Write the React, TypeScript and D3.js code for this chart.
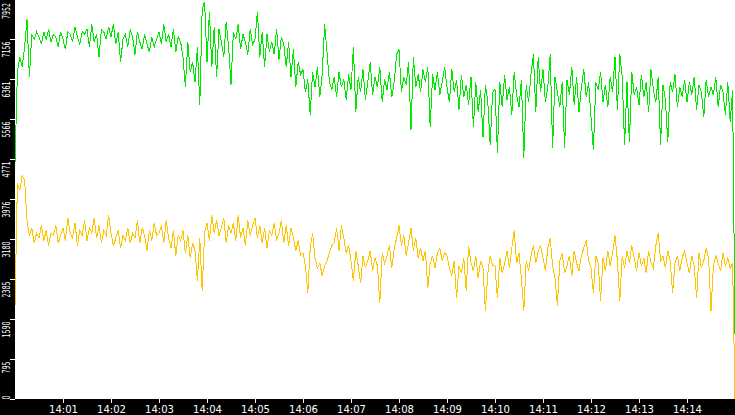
import React, { useEffect, useRef } from 'react';
import * as d3 from 'd3';

// sampled every 3 s from 14:00:00 to 14:15:00
const startTime = new Date(2024, 0, 1, 14, 0, 0);
const endTime = new Date(2024, 0, 1, 14, 15, 0);
const stepSeconds = 3;

const greenValues = [
  4700, 6500, 6800, 6600, 7000, 7550, 6400, 7250, 7150, 7300,
  7200, 7050, 7300, 7150, 7350, 7100, 7250, 7200, 7000, 7300,
  7150, 6950, 7300, 7250, 7100, 7400, 7200, 7050, 7300, 7250,
  7350, 7000, 7450, 7100, 7250, 6800, 7350, 7300, 7150, 7400,
  7200, 7450, 7050, 7300, 6700, 7150, 7250, 7000, 7350, 7200,
  6850, 7300, 7100, 6950, 7250, 7050, 6900, 7200, 7000, 7150,
  7300, 7050, 7450, 7100, 7250, 7000, 7350, 6900, 7200, 7100,
  6800, 6200, 7100, 6500, 6700, 6300, 7000, 5850, 7750, 7900,
  6700, 7700, 6600, 7400, 6400, 7350, 7100, 6800, 7500, 7000,
  6250, 7300, 7150, 7450, 6950, 7250, 7100, 6850, 7350, 7050,
  7150, 7700, 6800, 7300, 6600, 7250, 6900, 7100, 6850, 7350,
  6750, 7200, 7050, 6600, 7100, 6400, 6950, 6200, 6700, 6450,
  6550, 6100, 6350, 5650, 6500, 6200, 6600, 6000, 6450, 7450,
  6900, 6300, 6150, 6400, 6000, 6500, 6200, 6350, 5950, 6450,
  6150, 7000, 5700, 6400, 6100, 6550, 5950, 6300, 6700, 6050,
  6400, 6200, 6600, 5900, 6350, 6150, 6500, 6000, 6300, 6850,
  6950, 6100, 6400, 6250, 6700, 5350, 6800, 6200, 6450, 6100,
  6550, 6300, 6600, 5400, 6450, 6150, 6500, 6050, 6300, 6600,
  6200, 5900, 6550, 6100, 6350, 5750, 6450, 6000, 6250, 5850,
  6400, 5400, 6300, 5700, 6150, 5200, 6250, 5900, 5050, 6100,
  6150, 4900, 6300, 5800, 6450, 5950, 6200, 5650, 6500, 6050,
  5800, 6350, 4800, 6250, 5900, 6450, 6850, 5700, 6800, 6100,
  6550, 5900, 6200, 6850, 5000, 6400, 6100, 5800, 6300, 5000,
  6350, 6050, 6600, 5850, 6400, 5700, 6200, 6550, 6000, 6300,
  5600, 4950, 6300, 6150, 6500, 5900, 6250, 5800, 6400, 6100,
  6800, 5750, 6850, 6400, 5050, 6300, 5100, 6500, 6050, 6200,
  5850, 6450, 6000, 6300, 5700, 6550, 6150, 5900, 6400, 5050,
  6250, 5950, 5100, 6300, 6100, 6450, 5800, 6200, 6000, 6350,
  5900, 6300, 6050, 6400, 5750, 6250, 6100, 5600, 6350, 6000,
  6200, 6050, 6400, 5800, 6250, 6100, 5650, 6300, 5500, 6150,
  1300,
];

const yellowValues = [
  1850, 4300, 4150, 4450, 4350, 3550, 3250, 3400, 3100, 3300,
  3200, 3450, 3150, 3350, 3050, 3300, 3250, 3450, 3100, 3250,
  3400, 3150, 3600, 3300, 3200, 3500, 3050, 3350, 3250, 3550,
  3150, 3400, 3300, 3600, 3200, 3450, 3100, 3350, 3250, 3650,
  3300, 3050, 3200, 3350, 3000, 3250, 3150, 3400, 3100, 3300,
  3200, 3550, 3100, 3400, 3250, 2950, 3350, 3150, 3500, 3250,
  3300, 3450, 3100, 3550, 3200, 3000, 3350, 2850, 3250, 3150,
  3350, 2900, 3250, 2800, 3100, 2950, 2350, 3200, 2150, 3300,
  3500, 3150, 3650, 3300, 3550, 3250, 3400, 3600, 3100, 3450,
  3300, 3500, 3150, 3650, 3200, 3400, 3050, 3550, 3250, 3450,
  3600, 3200, 3450, 3100, 3400, 3000, 3350, 3250, 3500, 3150,
  3300, 3550, 3100, 3450, 3050, 3400, 3200, 2950, 3150, 2850,
  2900, 2650, 2100, 3000, 3300, 2800, 2600, 2700, 2450, 2650,
  2750, 2900, 3050, 3100, 3400, 2950, 3450, 3200, 2900, 3050,
  2750, 2350, 2950, 2650, 2300, 2850, 2600, 2750, 2950, 2550,
  2800, 2650, 1900, 2900, 2700, 2850, 3050, 2600, 3000, 3200,
  3450, 3050, 3250, 2850, 3100, 3400, 2950, 3200, 2800, 3000,
  2750, 2950, 2200, 2700, 2850, 2600, 2900, 3000, 2750, 2900,
  2850, 2600, 2450, 2750, 2000, 2650, 2500, 2800, 2150, 3050,
  2700, 2550, 2850, 2400, 2750, 2600, 1750, 2500, 2850, 2650,
  2650, 2000, 2800, 2500, 2700, 2950, 2600, 3000, 3350, 2700,
  2900, 2400, 1750, 2750, 2550, 2850, 3050, 2700, 2950, 3050,
  2800, 2550, 3000, 3200, 2650, 2400, 1850, 2750, 2900, 2500,
  2650, 2850, 2450, 2950, 2700, 2550, 2850, 3000, 3150, 2750,
  2600, 2100, 2850, 2700, 1950, 2800, 2550, 2950, 2650, 2900,
  3250, 2750, 1950, 2850, 2600, 2950, 2700, 3050, 2800, 2550,
  2900, 2650, 2800, 2500, 2950, 2700, 2600, 3050, 3300, 2750,
  2850, 2600, 2950, 2750, 2100, 2700, 2850, 2550, 2800, 2950,
  2700, 2500, 2850, 2650, 2000, 2900, 2600, 2750, 3000, 2800,
  1750, 2650, 2850, 2700, 2550, 2900, 2650, 2800, 2600, 2700,
  0,
];

const yTickLabels = [0, 795, 1590, 2385, 3180, 3976, 4771, 5566, 6361, 7156, 7952];
const yMax = 7952;

const width = 735;
const height = 415;
const plotLeft = 15;
const plotBottom = 399;

const colors = {
  green: '#00e800',
  yellow: '#ffc400',
  frame: '#000000',
  text: '#ffffff',
};

const App: React.FC = () => {
  const svgRef = useRef<SVGSVGElement>(null);

  useEffect(() => {
    if (!svgRef.current) return;
    const svg = d3.select(svgRef.current);
    svg.selectAll('*').remove();

    const x = d3.scaleTime().domain([startTime, endTime]).range([plotLeft, width]);
    const y = d3.scaleLinear().domain([0, yMax]).range([plotBottom, -1]);

    // black frame strips
    svg.append('rect').attr('x', 0).attr('y', 0).attr('width', plotLeft).attr('height', height).attr('fill', colors.frame);
    svg.append('rect').attr('x', 0).attr('y', plotBottom).attr('width', width).attr('height', height - plotBottom).attr('fill', colors.frame);

    const timeAt = (i: number) => new Date(startTime.getTime() + i * stepSeconds * 1000);
    const line = d3.line<number>()
      .x((_, i) => x(timeAt(i)))
      .y(d => y(d));

    [
      { values: yellowValues, color: colors.yellow },
      { values: greenValues, color: colors.green },
    ].forEach(s => {
      svg.append('path')
        .attr('d', line(s.values) || '')
        .attr('fill', 'none')
        .attr('stroke', s.color)
        .attr('stroke-width', 1)
        .attr('shape-rendering', 'crispEdges');
    });

    // y axis (rotated labels inside the left strip)
    const yAxis = svg.append('g');
    yTickLabels.forEach(v => {
      const ty = Math.round(y(v)) + 0.5;
      yAxis.append('line')
        .attr('x1', 10).attr('x2', plotLeft)
        .attr('y1', ty).attr('y2', ty)
        .attr('stroke', colors.text)
        .attr('shape-rendering', 'crispEdges');
      const label = String(v);
      const bottom = v === 0;
      yAxis.append('text')
        .attr('transform', `translate(10,${bottom ? ty : Math.max(ty + 2, 3)}) rotate(-90)`)
        .attr('text-anchor', bottom ? 'start' : 'end')
        .attr('textLength', label.length * 4)
        .attr('lengthAdjust', 'spacingAndGlyphs')
        .style('font-family', 'DejaVu Sans, sans-serif')
        .style('font-size', '10px')
        .style('fill', colors.text)
        .text(label);
    });

    // x axis
    const xTicks = d3.timeMinute.range(d3.timeMinute.offset(startTime, 1), endTime);
    const fmt = d3.timeFormat('%H:%M');
    const xAxis = svg.append('g');
    xTicks.forEach(t => {
      const tx = Math.round(x(t)) + 0.5;
      xAxis.append('line')
        .attr('x1', tx).attr('x2', tx)
        .attr('y1', plotBottom).attr('y2', plotBottom + 4)
        .attr('stroke', colors.text)
        .attr('shape-rendering', 'crispEdges');
      xAxis.append('text')
        .attr('x', tx)
        .attr('y', 413)
        .attr('text-anchor', 'middle')
        .style('font-family', 'DejaVu Sans, sans-serif')
        .style('font-size', '10px')
        .style('fill', colors.text)
        .text(fmt(t));
    });
  }, []);

  return (
    <div style={{ position: 'fixed', left: 0, top: 0 }}>
      <svg ref={svgRef} width={width} height={height} style={{ display: 'block', background: '#ffffff' }} />
    </div>
  );
};

export default App;
